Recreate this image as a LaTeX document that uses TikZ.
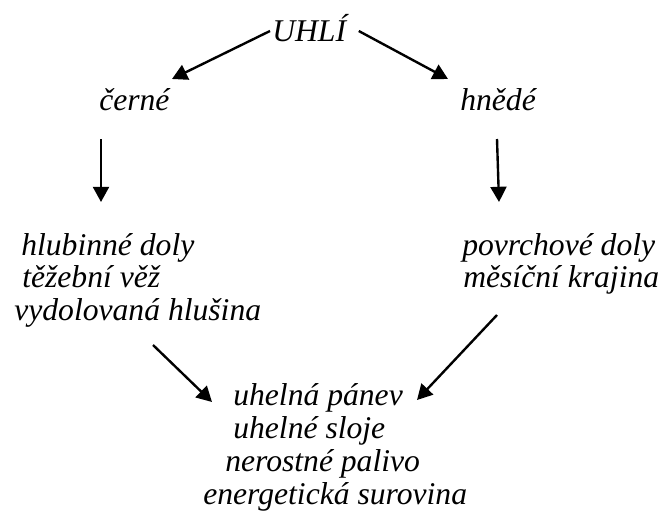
\documentclass[tikz,border=0pt]{standalone}
\usepackage{fontspec}
\setmainfont{Liberation Serif}
\usetikzlibrary{arrows.meta,calc}
\tikzset{
  word/.style = {inner sep=0pt, anchor=base west,
                 font=\itshape\fontsize{22.5}{27}\selectfont},
  arr/.style  = {line width=1.7pt, -{Triangle[length=0.38cm,width=0.4cm]}},
}
\begin{document}
\begin{tikzpicture}
  \useasboundingbox (0,0) rectangle (16.55,12.95);
  \node[word] (uhli)   at (6.8,11.9)    {UHLÍ};
  \node[word] (cerne)  at (2.475,10.2)  {černé};
  \node[word] (hnede)  at (11.5,10.2)   {hnědé};
  % left column
  \node[word] (hlub)   at (0.525,6.575) {hlubinné doly};
  \node[word] (tez)    at (0.55,5.775)  {těžební věž};
  \node[word] (vydol)  at (0.35,4.95)   {vydolovaná hlušina};
  % right column
  \node[word] (povrch) at (11.55,6.575) {povrchové doly};
  \node[word] (mesic)  at (11.575,5.775) {měsíční krajina};
  % bottom block
  \node[word] (panev)  at (5.825,2.825) {uhelná pánev};
  \node[word] (sloje)  at (5.825,2.0)   {uhelné sloje};
  \node[word] (palivo) at (5.625,1.175) {nerostné palivo};
  \node[word] (surov)  at (5.075,0.35)  {energetická surovina};
  % arrows
  \draw[arr] ($(uhli.base west)+(-0.05,0.275)$) -- ($(cerne.base west)+(1.825,0.775)$);
  \draw[arr] ($(uhli.base east)+(0.31,0.275)$) -- ($(hnede.base west)+(-0.3,0.775)$);
  \draw[arr] ($(cerne.base west)+(0.05,-0.725)$) -- ($(cerne.base west |- hlub.base)+(0.05,1.325)$);
  \draw[arr] ($(hnede.base west)+(0.925,-0.725)$) -- ($(povrch.base west)+(0.925,1.325)$);
  \draw[arr] ($(vydol.base west)+(3.475,-0.625)$) -- ($(panev.base west)+(-0.525,0.075)$);
  \draw[arr] ($(mesic.base west)+(0.85,-0.7)$) -- ($(panev.base west)+(4.6,0.125)$);
\end{tikzpicture}
\end{document}
